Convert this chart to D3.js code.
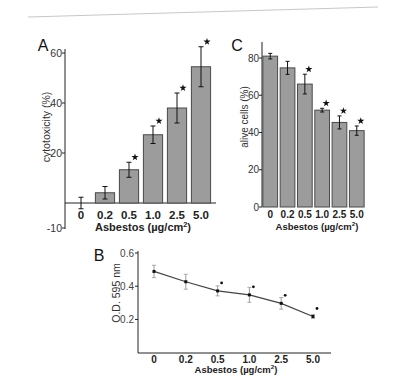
<!DOCTYPE html>
<html><head><meta charset="utf-8">
<script src="https://cdn.jsdelivr.net/npm/d3@7"></script>
<style>
html,body{margin:0;padding:0;background:#fff;}
svg{display:block;font-family:"Liberation Sans",Arial,sans-serif;}
</style></head>
<body>
<svg id="c" width="412" height="383"></svg>
<script>
const categories = ["0","0.2","0.5","1.0","2.5","5.0"];
const cytotoxicity = [0, 4.1, 13.3, 27.3, 38, 54.5];
const cytoErr = [2.3, 2.5, 3, 3.5, 6, 8];
const alive = [81, 74.7, 66, 52, 45.4, 41];
const aliveErr = [1.5, 3.5, 5.3, 1, 3.5, 2.5];
const od = [0.489, 0.427, 0.372, 0.348, 0.297, 0.218];
const odErr = [0.037, 0.045, 0.03, 0.045, 0.035, 0.012];
const significant = [false, false, true, true, true, true];
const ticksA = [60, 40, 20, -10];
const ticksC = [80, 60, 40, 20, 0];
const ticksB = [0.6, 0.4, 0.2];
const xTitle = "Asbestos (\u00b5g/cm";

const svg = d3.select("#c");
const ink = "#222";
const barFill = "#9c9c9c";
const barStroke = "#4a4a4a";

// faint scan line on top
svg.append("line").attr("x1",28).attr("y1",17).attr("x2",378).attr("y2",7)
  .attr("stroke","#c8c8c8").attr("stroke-width",1);

function star(g, x, y){
  g.append("path").attr("d", d3.symbol(d3.symbolStar, 16)())
    .attr("transform", `translate(${x},${y})`).attr("fill", "#111");
}
function xTitleText(g, x, y, fs){
  const t = g.append("text").attr("x",x).attr("y",y).attr("text-anchor","middle")
    .attr("font-size",fs).attr("font-weight","bold").attr("fill",ink);
  t.append("tspan").text(xTitle);
  t.append("tspan").attr("font-size",fs*0.65).attr("dy",-fs*0.38).text("2");
  t.append("tspan").attr("dy",fs*0.38).text(")");
}
function yAxisDraw(g, scale, x, top, bottom, ticks, fmt, fs){
  g.append("line").attr("x1",x).attr("x2",x).attr("y1",top).attr("y2",bottom)
    .attr("stroke",ink).attr("stroke-width",1);
  ticks.forEach(t=>{
    g.append("line").attr("x1",x-3).attr("x2",x).attr("y1",scale(t)).attr("y2",scale(t))
      .attr("stroke",ink);
    g.append("text").attr("x",x-3).attr("y",scale(t)).attr("dy","0.35em")
      .attr("text-anchor","end").attr("font-size",fs).attr("fill","#333").text(fmt(t));
  });
}

// ---------- Panel A ----------
const gA = svg.append("g");
const xA = d3.scaleBand().domain(categories).range([69,213]).paddingInner(0.2).paddingOuter(0.1);
const yA = d3.scaleLinear().domain([-10,60]).range([228,53]);
yAxisDraw(gA, yA, 65, 49, 229, ticksA, d=>String(d), 10.5);
gA.append("line").attr("x1",65).attr("x2",216).attr("y1",yA(0)).attr("y2",yA(0)).attr("stroke",ink);
categories.forEach((c,i)=>{
  const v = cytotoxicity[i];
  if (v > 0) {
    gA.append("rect").attr("x",xA(c)).attr("width",xA.bandwidth())
      .attr("y",yA(v)).attr("height",yA(0)-yA(v))
      .attr("fill",barFill).attr("stroke",barStroke).attr("stroke-width",1);
  }
  const cx = xA(c)+xA.bandwidth()/2;
  const e = cytoErr[i];
  gA.append("line").attr("x1",cx).attr("x2",cx).attr("y1",yA(v+e)).attr("y2",yA(v-e)).attr("stroke","#111");
  [v+e, v-e].forEach(w=>gA.append("line").attr("x1",cx-2.5).attr("x2",cx+2.5).attr("y1",yA(w)).attr("y2",yA(w)).attr("stroke","#111"));
  if (significant[i]) star(gA, cx+6, yA(v+e)-5);
  gA.append("text").attr("x",cx).attr("y",215).attr("dy","0.35em").attr("text-anchor","middle")
    .attr("font-size",11.5).attr("font-weight","bold").attr("fill",ink).text(c);
});
xTitleText(gA, 143, 231, 11);
gA.append("text").attr("x",43).attr("y",51).attr("font-size",16).attr("text-anchor","middle").attr("fill","#111").text("A");
gA.append("text").attr("transform","translate(50,127) rotate(-90)").attr("text-anchor","middle")
  .attr("font-size",10.5).attr("fill","#333").text("cytotoxicity (%)");

// ---------- Panel C ----------
const gC = svg.append("g");
const xC = d3.scaleBand().domain(categories).range([262,365]).paddingInner(0.15).paddingOuter(0.05);
const yC = d3.scaleLinear().domain([0,80]).range([207,58]);
yAxisDraw(gC, yC, 262, 42, 207, ticksC, d=>String(d), 10);
categories.forEach((c,i)=>{
  const v = alive[i];
  gC.append("rect").attr("x",xC(c)).attr("width",xC.bandwidth())
    .attr("y",yC(v)).attr("height",yC(0)-yC(v))
    .attr("fill",barFill).attr("stroke",barStroke).attr("stroke-width",1);
  const cx = xC(c)+xC.bandwidth()/2;
  const e = aliveErr[i];
  gC.append("line").attr("x1",cx).attr("x2",cx).attr("y1",yC(v+e)).attr("y2",yC(v-e)).attr("stroke","#111");
  [v+e, v-e].forEach(w=>gC.append("line").attr("x1",cx-2).attr("x2",cx+2).attr("y1",yC(w)).attr("y2",yC(w)).attr("stroke","#111"));
  if (significant[i]) star(gC, cx+4, yC(v+e)-5);
  gC.append("text").attr("x",cx).attr("y",214).attr("dy","0.35em").attr("text-anchor","middle")
    .attr("font-size",10).attr("font-weight","bold").attr("fill",ink).text(c);
});
xTitleText(gC, 317, 230, 9.5);
gC.append("text").attr("x",237).attr("y",51).attr("font-size",16).attr("text-anchor","middle").attr("fill","#111").text("C");
gC.append("text").attr("transform","translate(248,117) rotate(-90)").attr("text-anchor","middle")
  .attr("font-size",10).attr("fill","#333").text("alive cells (%)");

// ---------- Panel B ----------
const gB = svg.append("g");
const xB = d3.scalePoint().domain(categories).range([154,313]);
const yB = d3.scaleLinear().domain([0,0.6]).range([352.7,253]);
gB.append("line").attr("x1",138).attr("x2",138).attr("y1",251).attr("y2",353).attr("stroke",ink);
gB.append("line").attr("x1",138).attr("x2",331).attr("y1",353).attr("y2",353).attr("stroke",ink);
ticksB.forEach(t=>{
  gB.append("line").attr("x1",135).attr("x2",138).attr("y1",yB(t)).attr("y2",yB(t)).attr("stroke",ink);
  gB.append("text").attr("x",134).attr("y",yB(t)).attr("dy","0.35em").attr("text-anchor","end")
    .attr("font-size",10).attr("fill","#444").text(t.toFixed(1));
});
categories.forEach((c,i)=>{
  const cx = xB(c), v = od[i], e = odErr[i];
  gB.append("line").attr("x1",cx).attr("x2",cx).attr("y1",yB(v+e)).attr("y2",yB(v-e)).attr("stroke","#9a9a9a");
  [v+e, v-e].forEach(w=>gB.append("line").attr("x1",cx-2).attr("x2",cx+2).attr("y1",yB(w)).attr("y2",yB(w)).attr("stroke","#aaa"));
});
gB.append("path").datum(od)
  .attr("d", d3.line().x((d,i)=>xB(categories[i])).y(d=>yB(d)))
  .attr("fill","none").attr("stroke","#444").attr("stroke-width",1.2);
categories.forEach((c,i)=>{
  const cx = xB(c), v = od[i];
  gB.append("rect").attr("x",cx-1.5).attr("y",yB(v)-1.5).attr("width",3).attr("height",3).attr("fill","#111");
  if (significant[i]) gB.append("circle").attr("cx",cx+4).attr("cy",yB(v)-8).attr("r",1.4).attr("fill","#111");
  gB.append("text").attr("x",cx).attr("y",359).attr("dy","0.35em").attr("text-anchor","middle")
    .attr("font-size",10).attr("font-weight","bold").attr("fill",ink).text(c);
});
xTitleText(gB, 236, 373, 9.5);
gB.append("text").attr("x",99).attr("y",261).attr("font-size",16).attr("text-anchor","middle").attr("fill","#111").text("B");
gB.append("text").attr("transform","translate(120,293) rotate(-90)").attr("text-anchor","middle")
  .attr("font-size",10.5).attr("fill","#333").text("O.D. 595 nm");
</script>
</body></html>
